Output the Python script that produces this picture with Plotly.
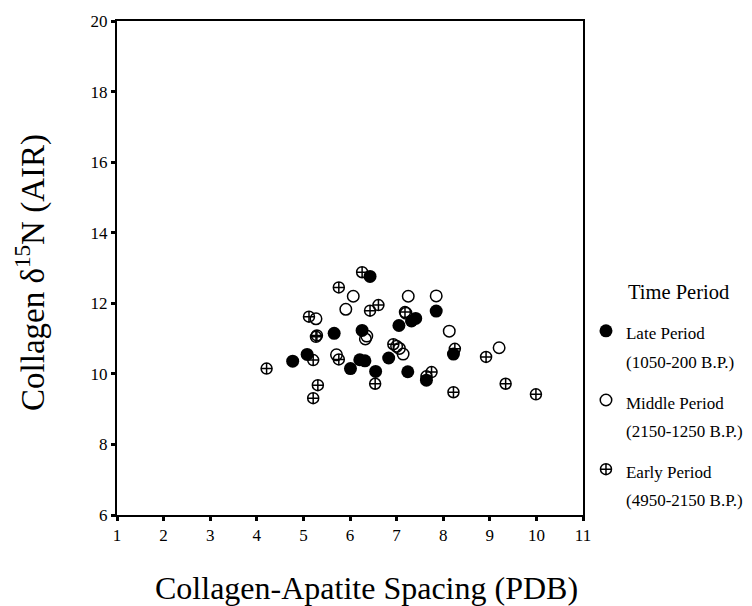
import plotly.graph_objects as go

# Late Period (1050-200 B.P.)
late_x = [4.77, 5.08, 5.66, 6.01, 6.21, 6.26, 6.32, 6.43, 6.55, 6.83, 7.05, 7.24, 7.32, 7.41, 7.64, 7.85, 8.22]
late_y = [10.36, 10.55, 11.15, 10.15, 10.40, 11.23, 10.37, 12.76, 10.07, 10.45, 11.37, 10.06, 11.50, 11.57, 9.82, 11.78, 10.56]

# Middle Period (2150-1250 B.P.)
mid_x = [5.27, 5.71, 5.91, 6.07, 6.36, 6.33, 7.00, 7.06, 7.14, 7.20, 7.25, 7.85, 8.13, 9.20]
mid_y = [11.56, 10.54, 11.83, 12.20, 11.07, 10.99, 10.78, 10.72, 10.56, 11.72, 12.20, 12.21, 11.21, 10.74]

# Early Period (4950-2150 B.P.)
early_x = [4.21, 5.12, 5.21, 5.21, 5.27, 5.29, 5.31, 5.76, 5.76, 6.26, 6.43, 6.54, 6.61, 6.93, 7.18, 7.64, 7.75, 8.25, 8.22, 8.92, 9.34, 9.99]
early_y = [10.15, 11.62, 10.39, 9.31, 11.05, 11.09, 9.68, 12.45, 10.41, 12.88, 11.79, 9.72, 11.95, 10.84, 11.75, 9.93, 10.05, 10.71, 9.48, 10.48, 9.72, 9.42]

x_ticks = [1, 2, 3, 4, 5, 6, 7, 8, 9, 10, 11]
y_ticks = [6, 8, 10, 12, 14, 16, 18, 20]

FONT = "Liberation Serif"


def legend_name(line1, line2, size=17):
    s = "<span style='font-size:%spx'>" % size
    return s + line1 + "</span><br>" + s + line2 + "</span>"


fig = go.Figure()
fig.add_trace(go.Scatter(
    x=early_x, y=early_y, mode="markers",
    name=legend_name("Early Period", "(4950-2150 B.P.)"),
    legendrank=3, legendgroup="early",
    marker=dict(symbol="circle-cross-open", size=11, color="black", line=dict(width=1.5, color="black")),
))
fig.add_trace(go.Scatter(
    x=mid_x, y=mid_y, mode="markers",
    name=legend_name("Middle Period", "(2150-1250 B.P.)"),
    legendrank=2, legendgroup="middle",
    marker=dict(symbol="circle-open", size=11.5, color="black", line=dict(width=1.5, color="black")),
))
fig.add_trace(go.Scatter(
    x=late_x, y=late_y, mode="markers",
    name=legend_name("Late Period", "(1050-200 B.P.)"),
    legendrank=1, legendgroup="late",
    marker=dict(symbol="circle", size=13, color="black", line=dict(width=0)),
))

fig.update_layout(
    width=780, height=606,
    margin=dict(l=109, r=205, t=13, b=99),
    paper_bgcolor="white", plot_bgcolor="white",
    font=dict(family=FONT, color="black"),
    showlegend=True,
    legend=dict(
        x=1.0064, y=0.415, xanchor="left", yanchor="top",
        font=dict(size=22, family=FONT),
        valign="top", tracegroupgap=9,
        bgcolor="rgba(0,0,0,0)",
    ),
    xaxis=dict(
        range=[1, 11], tickvals=x_ticks, ticktext=[str(v) for v in x_ticks],
        showgrid=False, zeroline=False, automargin=False,
        showline=True, linecolor="black", linewidth=2, mirror=True,
        ticks="outside", ticklen=4, tickwidth=3, tickcolor="black",
        tickfont=dict(size=17, family=FONT),
    ),
    yaxis=dict(
        range=[6, 20], tickvals=y_ticks, ticktext=[str(v) for v in y_ticks],
        showgrid=False, zeroline=False, automargin=False,
        showline=True, linecolor="black", linewidth=2, mirror=True,
        ticks="outside", ticklen=4, tickwidth=3, tickcolor="black",
        tickfont=dict(size=17, family=FONT),
    ),
    annotations=[
        dict(text="Collagen-Apatite Spacing (PDB)", xref="paper", yref="paper",
             x=0.536, y=-0.148, xanchor="center", yanchor="middle", showarrow=False,
             font=dict(size=32, family=FONT)),
        dict(text="Collagen \u03b4<sup>15</sup>N (AIR)", xref="paper", yref="paper",
             x=-0.1845, y=0.49, xanchor="center", yanchor="middle", showarrow=False,
             textangle=-90, font=dict(size=33, family=FONT)),
        dict(text="Time Period", xref="paper", yref="paper",
             x=1.0926, y=0.452, xanchor="left", yanchor="middle", showarrow=False,
             font=dict(size=20.5, family=FONT)),
    ],
)

fig.write_html("out.html")
